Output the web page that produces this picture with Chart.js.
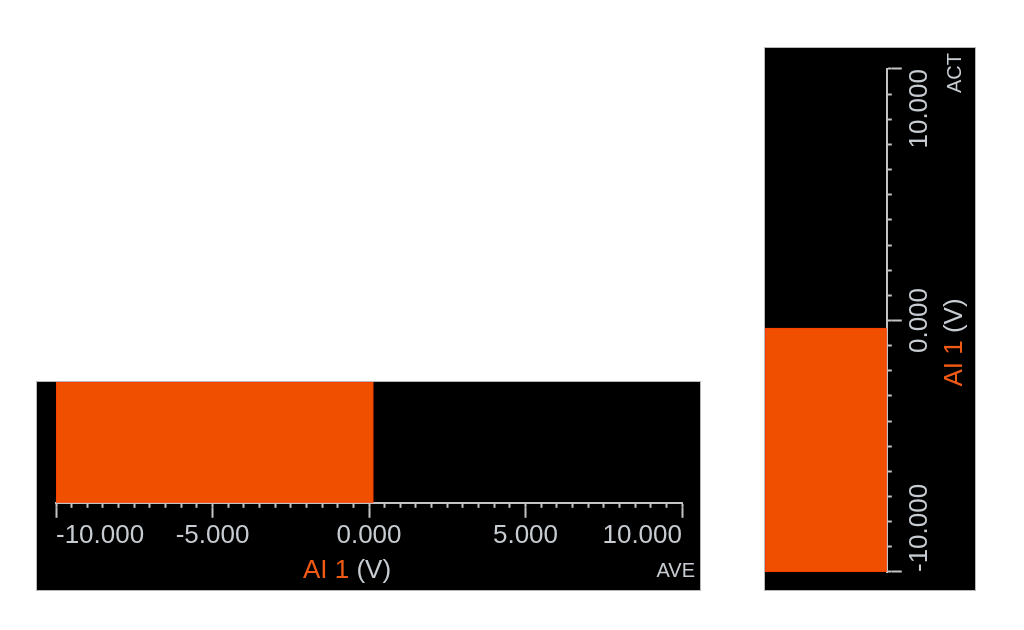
<!DOCTYPE html>
<html>
<head>
<meta charset="utf-8">
<script src="https://cdn.jsdelivr.net/npm/chart.js@4/dist/chart.umd.min.js"></script>
<style>
  html, body { margin: 0; padding: 0; background: #ffffff; width: 1024px; height: 630px; overflow: hidden; }
  canvas { position: absolute; background: #000000; outline: 1px solid #b8b8b8; }
  #aveGauge { left: 37px; top: 382px; }
  #actGauge { left: 765px; top: 590px; transform-origin: 0 0; transform: rotate(-90deg); }
</style>
</head>
<body>
<canvas id="aveGauge" width="663" height="208"></canvas>
<canvas id="actGauge" width="542" height="210"></canvas>
<script>
// ---- data ----
const categories = ['AI 1'];
const aveValues = [0.14];          // horizontal gauge (AVE)
const actValues = [-0.3];          // vertical gauge (ACT)
const valueRange = [-10, 10];
const aveMajorTicks = [-10, -5, 0, 5, 10];
const aveTickLabels = ['-10.000', '-5.000', '0.000', '5.000', '10.000'];
const aveMinorStep = 0.5;
const actMajorTicks = [-10, 0, 10];
const actTickLabels = ['-10.000', '0.000', '10.000'];
const actMinorStep = 1;
const titleParts = ['AI 1', ' (V)'];
const gaugeTags = ['AVE', 'ACT'];

// ---- styles ----
const ORANGE = '#f04f00';
const TITLE_ORANGE = '#f05a14';
const TICK = '#c4c4c4';
const LABEL = '#c6ccd2';
const FONT = "'Liberation Sans', Arial, sans-serif";

const gaugeText = {
  id: 'gaugeText',
  afterDraw(chart, args, opts) {
    const ctx = chart.ctx;
    const sx = chart.scales.x;
    const ca = chart.chartArea;
    ctx.save();
    ctx.font = '26px ' + FONT;
    ctx.textBaseline = 'middle';
    ctx.textAlign = 'left';
    const widths = titleParts.map(t => ctx.measureText(t).width);
    const total = widths.reduce((a, b) => a + b, 0);
    let x = (sx.left + sx.right) / 2 - 22 - total / 2;
    const y = ca.bottom + 68;
    const colors = [TITLE_ORANGE, LABEL];
    titleParts.forEach((t, i) => {
      ctx.fillStyle = colors[i];
      ctx.fillText(t, x, y);
      x += widths[i];
    });
    ctx.font = "20px 'Liberation Sans Narrow', 'Liberation Sans', sans-serif";
    ctx.textAlign = 'right';
    ctx.textBaseline = 'alphabetic';
    ctx.fillStyle = LABEL;
    ctx.fillText(opts.tag, chart.width - 5, ca.bottom + 74);
    ctx.restore();
  }
};

function makeGauge(canvas, values, majorTicks, tickLabels, minorStep, tag, pad) {
  return new Chart(canvas, {
    type: 'bar',
    data: {
      labels: categories,
      datasets: [{
        data: values.map(v => [valueRange[0], v]),
        backgroundColor: ORANGE,
        borderColor: '#ff3a00',
        borderWidth: 1,
        borderSkipped: false,
        barPercentage: 1,
        categoryPercentage: 1
      }]
    },
    options: {
      indexAxis: 'y',
      responsive: false,
      animation: false,
      devicePixelRatio: 1,
      layout: { padding: pad },
      plugins: {
        legend: { display: false },
        tooltip: { enabled: false },
        gaugeText: { tag: tag }
      },
      scales: {
        y: { display: false },
        x: {
          type: 'linear', position: 'bottom', weight: 0,
          min: valueRange[0], max: valueRange[1],
          ticks: { display: false, stepSize: minorStep, autoSkip: false, maxTicksLimit: 200 },
          grid: { drawOnChartArea: false, tickLength: 5, tickWidth: 2, tickColor: TICK, color: TICK },
          border: { display: true, color: TICK, width: 2 }
        },
        xMajor: {
          type: 'linear', axis: 'x', position: 'bottom', weight: 1,
          min: valueRange[0], max: valueRange[1],
          afterBuildTicks: s => { s.ticks = majorTicks.map(v => ({ value: v })); },
          ticks: {
            display: true, align: 'inner', padding: 2, color: LABEL,
            font: { family: FONT, size: 26 },
            autoSkip: false, minRotation: 0, maxRotation: 0,
            callback: (v, i) => tickLabels[i]
          },
          grid: { drawOnChartArea: false, tickLength: 10, tickWidth: 2, tickColor: TICK, color: TICK },
          border: { display: false }
        }
      }
    },
    plugins: [gaugeText]
  });
}

makeGauge(document.getElementById('aveGauge'), aveValues, aveMajorTicks, aveTickLabels, aveMinorStep, gaugeTags[0],
  { left: 19, right: 18, top: 0, bottom: 37 });
makeGauge(document.getElementById('actGauge'), actValues, actMajorTicks, actTickLabels, actMinorStep, gaugeTags[1],
  { left: 18, right: 21, top: 0, bottom: 38 });
</script>
</body>
</html>
